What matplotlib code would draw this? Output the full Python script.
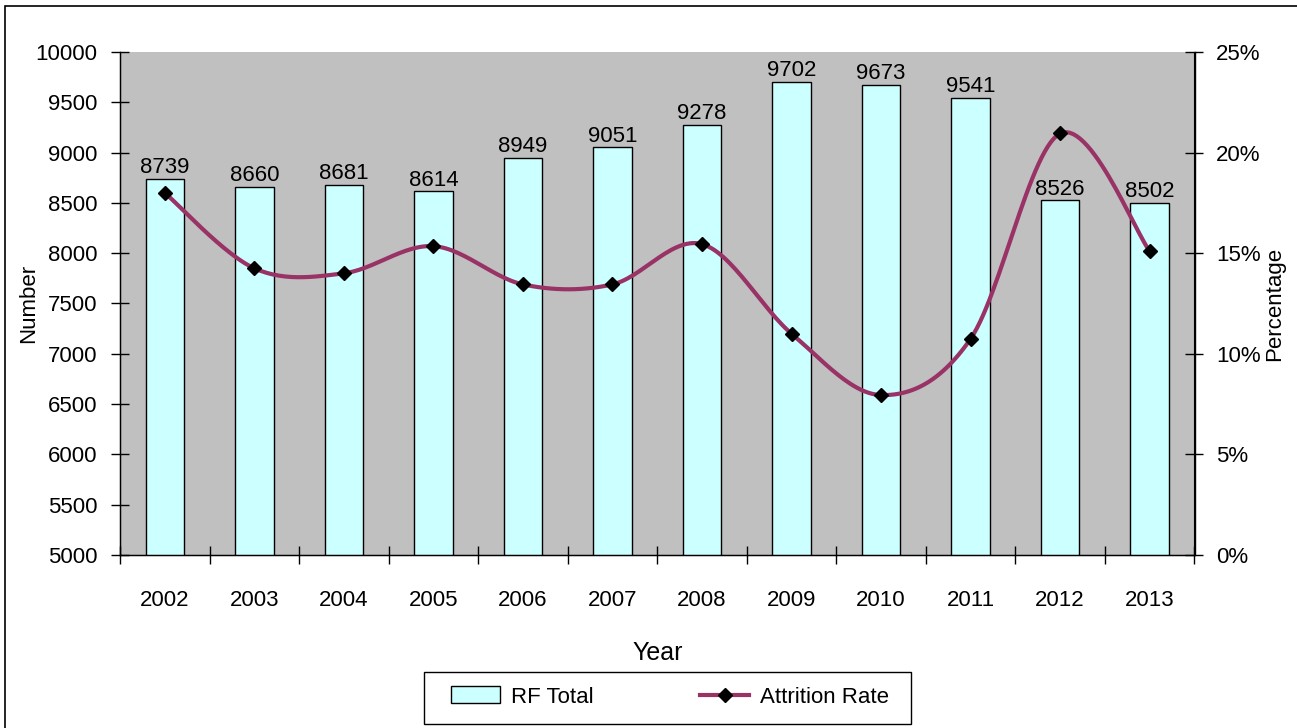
import numpy as np
import matplotlib
matplotlib.use("Agg")
import matplotlib.pyplot as plt
from matplotlib import font_manager
from matplotlib.patches import Rectangle, Patch
from matplotlib.lines import Line2D

years = ['2002', '2003', '2004', '2005', '2006', '2007',
         '2008', '2009', '2010', '2011', '2012', '2013']
rf_total = [8739, 8660, 8681, 8614, 8949, 9051, 9278, 9702, 9673, 9541, 8526, 8502]
attrition = [18.0, 14.25, 14.0, 15.35, 13.45, 13.45, 15.45, 11.0, 7.95, 10.75, 20.95, 15.1]

names = {f.name for f in font_manager.fontManager.ttflist}
family = 'Liberation Sans Narrow' if 'Liberation Sans Narrow' in names else 'Liberation Sans'
plt.rcParams['font.family'] = [family, 'DejaVu Sans']
fs = 16


def smooth(y, n=30):
    # cubic Bezier through each point, tangents from neighbours (Excel-style smoothing)
    y = np.asarray(y, dtype=float)
    x = np.arange(len(y), dtype=float)
    px = np.concatenate([[x[0]], x, [x[-1]]])
    py = np.concatenate([[y[0]], y, [y[-1]]])
    xs, ys = [], []
    t = np.linspace(0, 1, n)
    for i in range(len(y) - 1):
        p0 = np.array([x[i], y[i]])
        p3 = np.array([x[i + 1], y[i + 1]])
        p1 = p0 + (np.array([px[i + 2], py[i + 2]]) - np.array([px[i], py[i]])) / 6
        p2 = p3 - (np.array([px[i + 3], py[i + 3]]) - np.array([px[i + 1], py[i + 1]])) / 6
        b = ((1 - t) ** 3)[:, None] * p0 + (3 * (1 - t) ** 2 * t)[:, None] * p1 \
            + (3 * (1 - t) * t ** 2)[:, None] * p2 + (t ** 3)[:, None] * p3
        xs.extend(b[:, 0])
        ys.extend(b[:, 1])
    return np.array(xs), np.array(ys)


fig = plt.figure(figsize=(12.97, 7.28), dpi=100)
W, H = 1297, 728
ax = fig.add_axes([120 / W, (H - 555) / H, (1194.5 - 120) / W, (555 - 52) / H])
ax.set_facecolor('#c0c0c0')

x = np.arange(len(years))
ax.bar(x, rf_total, width=0.43, color='#ccffff', edgecolor='black', linewidth=1, zorder=2)
for xi, v in zip(x, rf_total):
    ax.annotate(str(v), (xi, v), xytext=(0, 0.5), textcoords='offset points',
                ha='center', va='bottom', fontsize=fs, zorder=5)

ax.set_xlim(-0.5, len(years) - 0.5)
ax.set_ylim(5000, 10000)
ax.set_yticks(np.arange(5000, 10001, 500))
ax.set_xticks(x)
ax.set_xticklabels(years, fontsize=fs)
ax.set_xticks(np.arange(-0.5, len(years), 1), minor=True)
ax.tick_params(axis='x', which='major', length=0, pad=25)
ax.tick_params(axis='x', which='minor', direction='inout', length=13, width=1)
ax.tick_params(axis='y', direction='inout', length=13, width=1, labelsize=fs, pad=10)
ax.spines['top'].set_visible(False)
for s in ['left', 'bottom', 'right']:
    ax.spines[s].set_linewidth(1)
ax.set_ylabel('Number', fontsize=fs)
ax.yaxis.set_label_coords((39 - 120) / 1074.5, 0.5)
ax.set_xlabel('Year', fontsize=fs + 2, labelpad=22)

ax2 = ax.twinx()
ax2.set_ylim(0, 25)
ax2.set_yticks(np.arange(0, 26, 5))
ax2.set_yticklabels([f'{v}%' for v in range(0, 26, 5)])
ax2.tick_params(axis='y', direction='inout', length=13, width=1, labelsize=fs, pad=9)
ax2.spines['top'].set_visible(False)
ax2.set_ylabel('Percentage', fontsize=fs)
ax2.yaxis.set_label_coords((1264 - 120) / 1074.5, 0.5)

sx, sy = smooth(attrition)
ax2.plot(sx, sy, color='#993366', linewidth=3, solid_capstyle='round', zorder=3)
ax2.plot(x, attrition, linestyle='none', marker='D', markersize=7, color='black', zorder=4)

handles = [Patch(facecolor='#ccffff', edgecolor='black', linewidth=1),
           Line2D([], [], color='#993366', linewidth=3, marker='D', markersize=7,
                  markerfacecolor='black', markeredgecolor='black')]
fig.legend(handles, ['RF Total', 'Attrition Rate'], loc='center',
           bbox_to_anchor=(670 / W, 1 - 697 / H), ncol=2, fontsize=fs,
           frameon=False, handlelength=2.2, handleheight=0.8,
           columnspacing=4.8, handletextpad=0.5, borderaxespad=0)
# legend frame
fig.patches.append(Rectangle((424 / W, 1 - 724 / H), (911 - 424) / W, 52 / H,
                             transform=fig.transFigure, fill=False,
                             edgecolor='black', linewidth=1))

# outer chart frame
fig.patches.append(Rectangle((4.5 / W, -0.1), 1.2, 1 - 6.5 / H + 0.1, transform=fig.transFigure,
                             fill=False, edgecolor='black', linewidth=1.2))

fig.savefig('out.png', dpi=100)
